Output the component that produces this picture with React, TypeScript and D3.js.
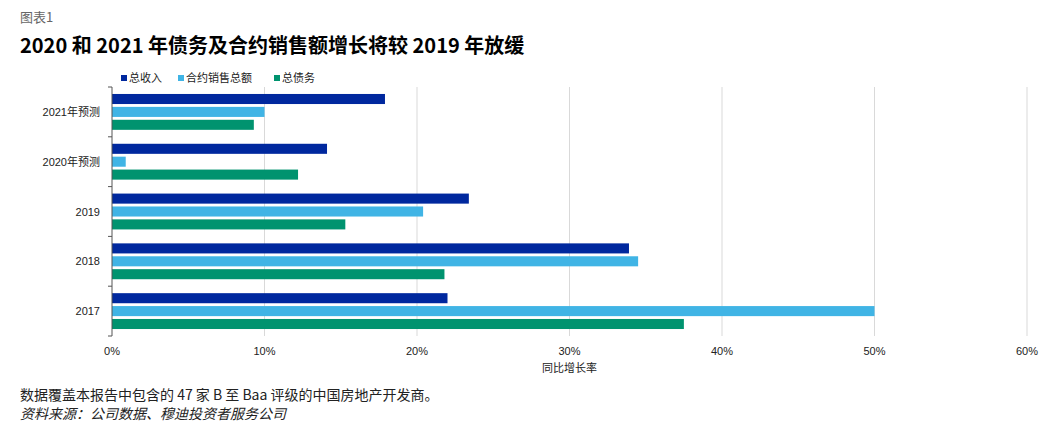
import React from "react";
import * as d3 from "d3";

const categories = ["2021年预测", "2020年预测", "2019", "2018", "2017"];
const seriesNames = ["总收入", "合约销售总额", "总债务"];
const seriesColors = ["#00289E", "#40B4E5", "#00936F"];
// Year-on-year growth, %
const revenue = [17.9, 14.1, 23.4, 33.9, 22.0];
const contractedSales = [10.0, 0.9, 20.4, 34.5, 50.0];
const totalDebt = [9.3, 12.2, 15.3, 21.8, 37.5];
const xTicks = [0, 10, 20, 30, 40, 50, 60];

const W = 1062;
const H = 439;
const CJK = "'Noto Sans CJK SC', 'Liberation Sans', sans-serif";
const LATIN = "'Liberation Sans', 'Noto Sans CJK SC', sans-serif";

export default function App() {
  const left = 112;
  const right = 1027;
  const top = 87;
  const bottom = 336;

  const x = d3.scaleLinear().domain([0, 60]).range([left, right]);
  const y0 = d3
    .scaleBand<string>()
    .domain(categories)
    .range([top, bottom])
    .paddingInner(0.28)
    .paddingOuter(0.14);
  const y1 = d3
    .scaleBand<string>()
    .domain(seriesNames)
    .range([0, y0.bandwidth()])
    .paddingInner(0.22);

  const values = [revenue, contractedSales, totalDebt];
  const step = y0.step();
  const boundaries = categories.map((c) => (y0(c) as number) - (step * y0.paddingInner()) / 2);
  boundaries.push(bottom);

  const legendItems = [
    { x: 121, name: seriesNames[0], color: seriesColors[0] },
    { x: 178, name: seriesNames[1], color: seriesColors[1] },
    { x: 274, name: seriesNames[2], color: seriesColors[2] },
  ];

  return (
    <svg
      width={W}
      height={H}
      style={{ position: "absolute", left: 0, top: 0, background: "#fff" }}
    >
      <text x={20} y={22} fontFamily={CJK} fontSize={13} fill="#666">
        图表1
      </text>
      <text x={20} y={53} fontFamily={CJK} fontSize={20} fontWeight="bold" fill="#000">
        2020 和 2021 年债务及合约销售额增长将较 2019 年放缓
      </text>

      {legendItems.map((d) => (
        <g key={d.name}>
          <rect x={d.x} y={75} width={6} height={6} fill={d.color} />
          <text x={d.x + 8} y={82} fontFamily={CJK} fontSize={11} fill="#222">
            {d.name}
          </text>
        </g>
      ))}

      {xTicks.slice(1).map((t) => (
        <line key={t} x1={x(t)} x2={x(t)} y1={top} y2={bottom} stroke="#d9d9d9" strokeWidth={1} />
      ))}

      {categories.map((c, ci) =>
        seriesNames.map((s, si) => (
          <rect
            key={c + s}
            x={x(0)}
            y={(y0(c) as number) + (y1(s) as number)}
            width={x(values[si][ci]) - x(0)}
            height={y1.bandwidth()}
            fill={seriesColors[si]}
          />
        ))
      )}

      <line x1={left} x2={left} y1={top} y2={bottom} stroke="#555" strokeWidth={1} />
      {boundaries.map((b, i) => (
        <line key={i} x1={left - 4} x2={left} y1={b} y2={b} stroke="#555" strokeWidth={1} />
      ))}

      {categories.map((c) => (
        <text
          key={c}
          x={100}
          y={(y0(c) as number) + y0.bandwidth() / 2 + 4}
          textAnchor="end"
          fontFamily={LATIN}
          fontSize={11}
          fill="#222"
        >
          {c}
        </text>
      ))}

      {xTicks.map((t) => (
        <text
          key={t}
          x={x(t)}
          y={355}
          textAnchor="middle"
          fontFamily={LATIN}
          fontSize={11}
          fill="#222"
        >
          {t}%
        </text>
      ))}
      <text x={x(30)} y={372} textAnchor="middle" fontFamily={CJK} fontSize={11} fill="#222">
        同比增长率
      </text>

      <text x={20} y={400} fontFamily={CJK} fontSize={14} fill="#222">
        数据覆盖本报告中包含的 47 家 B 至 Baa 评级的中国房地产开发商。
      </text>
      <text x={20} y={419} fontFamily={CJK} fontSize={14} fontStyle="italic" fill="#222">
        资料来源：公司数据、穆迪投资者服务公司
      </text>
    </svg>
  );
}
